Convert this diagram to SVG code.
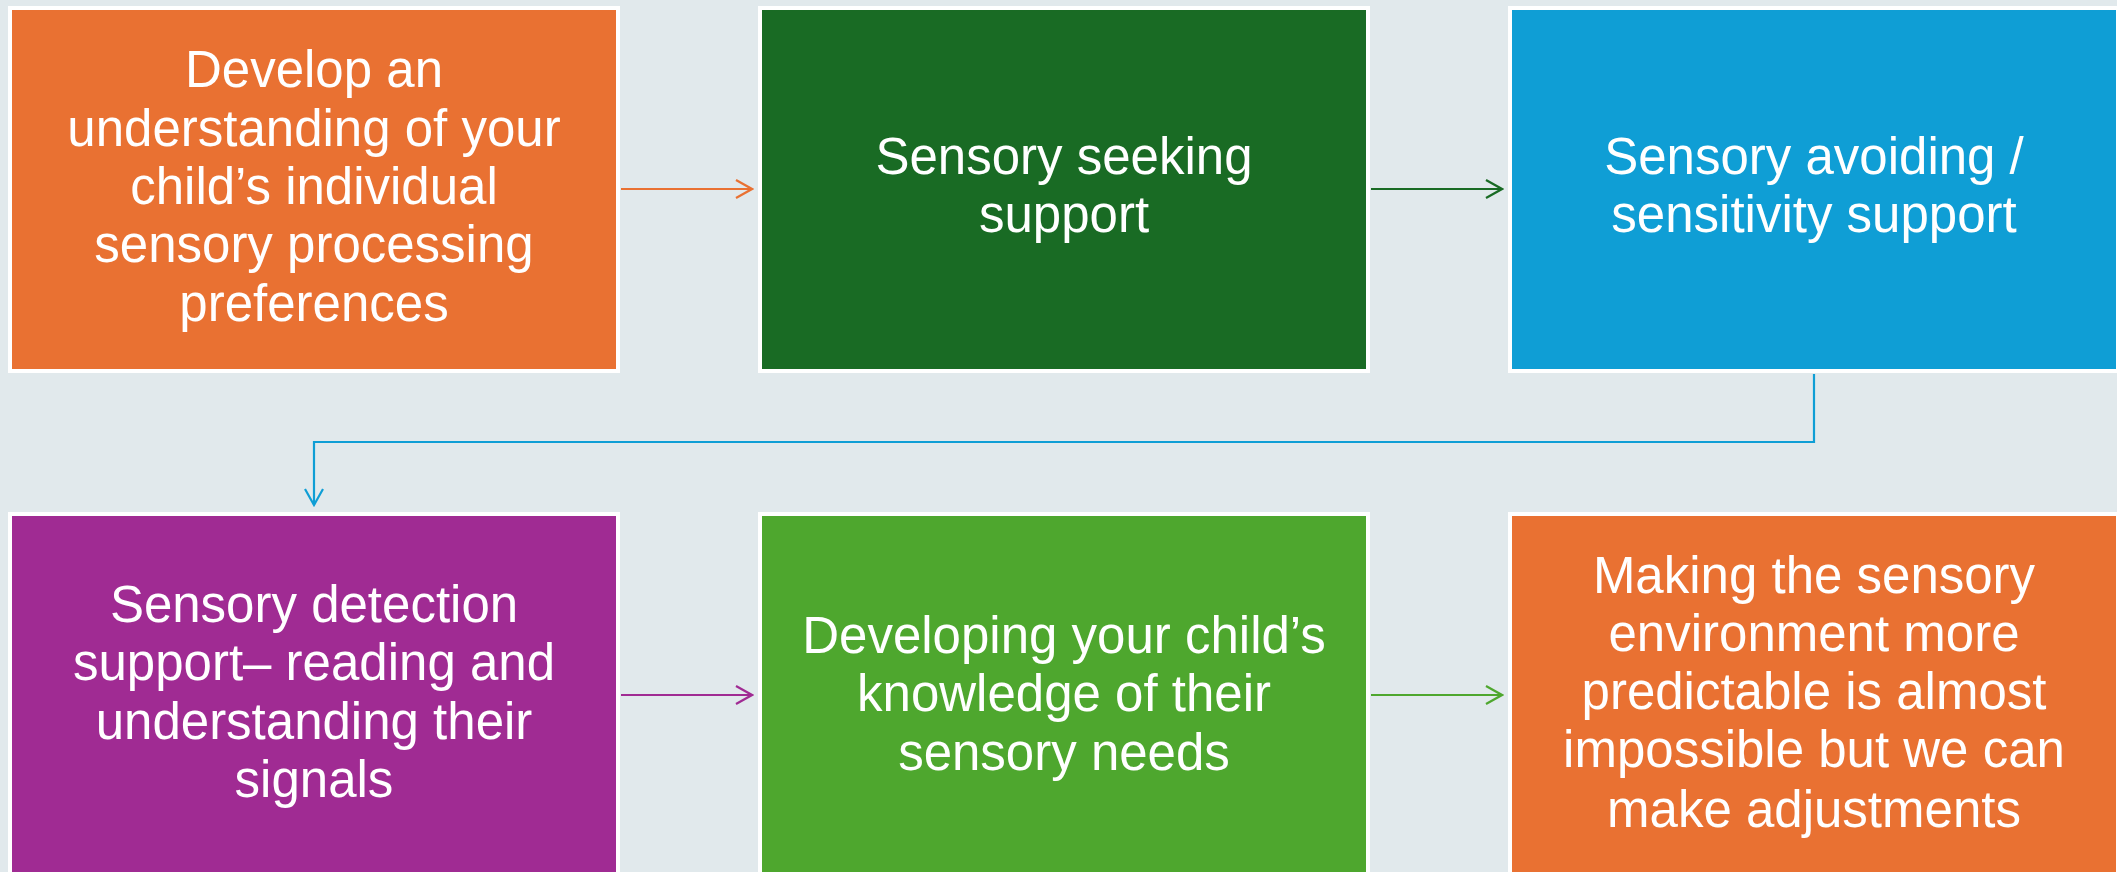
<svg xmlns="http://www.w3.org/2000/svg" width="2117" height="872" viewBox="0 0 2117 872">
<defs>
<style>
.box{stroke:#FFFFFF;stroke-width:4}
.t{font-family:"Liberation Sans",Arial,sans-serif;font-size:51px;fill:#FFFFFF;text-anchor:middle}
.c{fill:none;stroke-width:2.2}
</style>
<marker id="mo" viewBox="0 0 20 20" refX="18" refY="10" markerWidth="20" markerHeight="20" markerUnits="userSpaceOnUse" orient="auto"><path d="M2,1 L18,10 L2,19" fill="none" stroke="#E97132" stroke-width="2.2"/></marker>
<marker id="mg" viewBox="0 0 20 20" refX="18" refY="10" markerWidth="20" markerHeight="20" markerUnits="userSpaceOnUse" orient="auto"><path d="M2,1 L18,10 L2,19" fill="none" stroke="#196B24" stroke-width="2.2"/></marker>
<marker id="mb" viewBox="0 0 20 20" refX="18" refY="10" markerWidth="20" markerHeight="20" markerUnits="userSpaceOnUse" orient="auto"><path d="M2,1 L18,10 L2,19" fill="none" stroke="#0F9ED5" stroke-width="2.2"/></marker>
<marker id="mp" viewBox="0 0 20 20" refX="18" refY="10" markerWidth="20" markerHeight="20" markerUnits="userSpaceOnUse" orient="auto"><path d="M2,1 L18,10 L2,19" fill="none" stroke="#A02B93" stroke-width="2.2"/></marker>
<marker id="ml" viewBox="0 0 20 20" refX="18" refY="10" markerWidth="20" markerHeight="20" markerUnits="userSpaceOnUse" orient="auto"><path d="M2,1 L18,10 L2,19" fill="none" stroke="#4EA72E" stroke-width="2.2"/></marker>
</defs>
<rect x="0" y="0" width="2117" height="872" fill="#E1E9EC"/>
<g id="connectors">
<line class="c" x1="621" y1="189" x2="752" y2="189" stroke="#E97132" marker-end="url(#mo)"/>
<line class="c" x1="1371" y1="189" x2="1502" y2="189" stroke="#196B24" marker-end="url(#mg)"/>
<polyline class="c" points="1814,374 1814,442 314,442 314,505" stroke="#0F9ED5" marker-end="url(#mb)"/>
<line class="c" x1="621" y1="695" x2="752" y2="695" stroke="#A02B93" marker-end="url(#mp)"/>
<line class="c" x1="1371" y1="695" x2="1502" y2="695" stroke="#4EA72E" marker-end="url(#ml)"/>
</g>
<g id="node1">
<rect class="box" x="10" y="8" width="608" height="363" fill="#E97132"/>
<text class="t" x="314" y="87">Develop an</text>
<text class="t" x="314" y="146">understanding of your</text>
<text class="t" x="314" y="204">child’s individual</text>
<text class="t" x="314" y="262">sensory processing</text>
<text class="t" x="314" y="321">preferences</text>
</g>
<g id="node2">
<rect class="box" x="760" y="8" width="608" height="363" fill="#196B24"/>
<text class="t" x="1064" y="174">Sensory seeking</text>
<text class="t" x="1064" y="232">support</text>
</g>
<g id="node3">
<rect class="box" x="1510" y="8" width="608" height="363" fill="#0F9ED5"/>
<text class="t" x="1814" y="174">Sensory avoiding /</text>
<text class="t" x="1814" y="232">sensitivity support</text>
</g>
<g id="node4">
<rect class="box" x="10" y="514" width="608" height="363" fill="#A02B93"/>
<text class="t" x="314" y="622">Sensory detection</text>
<text class="t" x="314" y="680">support– reading and</text>
<text class="t" x="314" y="739">understanding their</text>
<text class="t" x="314" y="797">signals</text>
</g>
<g id="node5">
<rect class="box" x="760" y="514" width="608" height="363" fill="#4EA72E"/>
<text class="t" x="1064" y="653">Developing your child’s</text>
<text class="t" x="1064" y="711">knowledge of their</text>
<text class="t" x="1064" y="770">sensory needs</text>
</g>
<g id="node6">
<rect class="box" x="1510" y="514" width="608" height="363" fill="#E97132"/>
<text class="t" x="1814" y="593">Making the sensory</text>
<text class="t" x="1814" y="651">environment more</text>
<text class="t" x="1814" y="709">predictable is almost</text>
<text class="t" x="1814" y="767">impossible but we can</text>
<text class="t" x="1814" y="827">make adjustments</text>
</g>
</svg>
